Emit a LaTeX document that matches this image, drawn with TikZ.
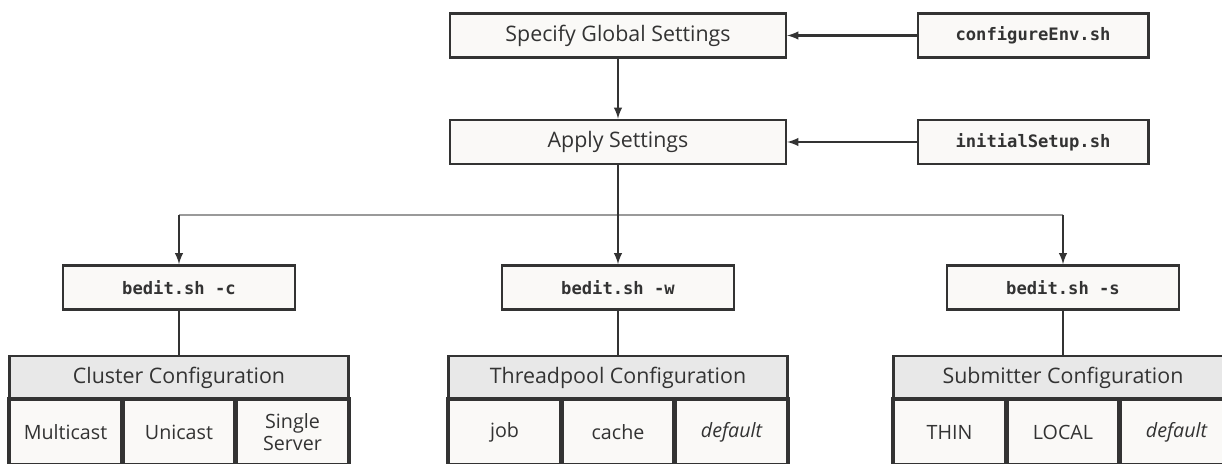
\documentclass[tikz,border=0pt]{standalone}
\usepackage{fontspec}
\setmainfont{Open Sans}
\setmonofont{DejaVu Sans Mono}
\usepackage{xcolor}
\usetikzlibrary{arrows}

\definecolor{ink}{HTML}{333333}
\definecolor{boxfill}{HTML}{FAF9F7}
\definecolor{hdrfill}{HTML}{E8E8E8}
\definecolor{busgray}{HTML}{9A9A9A}

\tikzset{
  box/.style={draw=ink, fill=boxfill, line width=1.7pt, inner sep=0pt,
    minimum height=31.5pt, text=ink, font=\fontsize{15.2}{17}\selectfont},
  script/.style={box, font=\ttfamily\bfseries\fontsize{12.2}{14}\selectfont},
  hdr/.style={box, fill=hdrfill, minimum width=241pt, minimum height=30.5pt,
    font=\fontsize{15.2}{17}\selectfont},
  cell/.style={box, line width=3.2pt, minimum width=80.3pt, minimum height=46.8pt,
    align=center, font=\fontsize{14}{16}\selectfont},
  link/.style={draw=ink, line width=1.7pt},
}

\begin{document}
\begin{tikzpicture}[>=latex, x=0.025cm, y=-0.025cm]
    \useasboundingbox[fill=white] (0, 0) rectangle (1222, 464);

    % top row
    \node[box, minimum width=239pt] (global) at (618, 35.5) {Specify Global Settings};
    \node[box, minimum width=239pt] (apply) at (618, 142) {Apply Settings};
    \node[script, minimum width=164pt] (envsh) at (1033, 35.5) {configureEnv.sh};
    \node[script, minimum width=164pt] (setupsh) at (1033, 142) {initialSetup.sh};

    \draw[link, ->] (envsh) -- (global);
    \draw[link, ->] (setupsh) -- (apply);
    \draw[link, ->] (global) -- (apply);

    % bedit boxes
    \node[script, minimum width=165pt] (bc) at (179, 287.5) {bedit.sh -c};
    \node[script, minimum width=165pt] (bw) at (618, 287.5) {bedit.sh -w};
    \node[script, minimum width=165pt] (bs) at (1063, 287.5) {bedit.sh -s};

    \coordinate (busl) at (179, 215);
    \coordinate (busr) at (1063, 215);
    \draw[busgray, line width=2pt] (busl) -- (busr);
    \draw[link, ->] (apply) -- (bw);
    \draw[link, ->] (busl) -- (bc);
    \draw[link, ->] (busr) -- (bs);

    % configuration blocks
    \node[hdr] (cluster) at (179, 377.5) {Cluster Configuration};
    \node[hdr] (thread) at (618, 377.5) {Threadpool Configuration};
    \node[hdr] (submit) at (1063, 377.5) {Submitter Configuration};

    \draw[link] (bc) -- (cluster);
    \draw[link] (bw) -- (thread);
    \draw[link] (bs) -- (submit);

    \node[cell] (multi) at (65.5, 432) {Multicast};
    \node[cell] (uni) at (179, 432) {Unicast};
    \node[cell] (single) at (292.5, 432) {Single\\Server};

    \node[cell] (job) at (504.5, 432) {job};
    \node[cell] (cache) at (618, 432) {cache};
    \node[cell] (tdef) at (731.5, 432) {\itshape default};

    \node[cell] (thin) at (949.5, 432) {THIN};
    \node[cell] (local) at (1063, 432) {LOCAL};
    \node[cell] (sdef) at (1176.5, 432) {\itshape default};
  \end{tikzpicture}
\end{document}
